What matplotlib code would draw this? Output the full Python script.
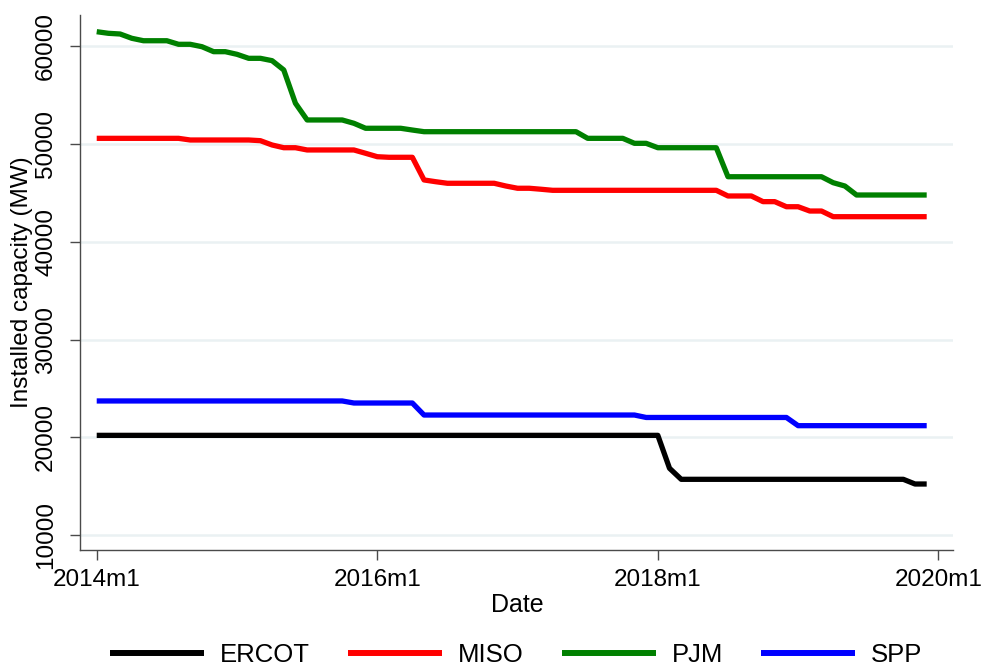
import numpy as np
import matplotlib
matplotlib.use("Agg")
import matplotlib.pyplot as plt

plt.rcParams['font.family'] = ['Liberation Sans', 'DejaVu Sans']

# Monthly index: 0 = 2014m1 ... 71 = 2019m12
months = np.arange(72)
tick_pos = [0, 24, 48, 72]
tick_labels = ["2014m1", "2016m1", "2018m1", "2020m1"]
y_ticks = [10000, 20000, 30000, 40000, 50000, 60000]

ercot = [20200, 20200, 20200, 20200, 20200, 20200, 20200, 20200, 20200, 20200,
         20200, 20200, 20200, 20200, 20200, 20200, 20200, 20200, 20200, 20200,
         20200, 20200, 20200, 20200, 20200, 20200, 20200, 20200, 20200, 20200,
         20200, 20200, 20200, 20200, 20200, 20200, 20200, 20200, 20200, 20200,
         20200, 20200, 20200, 20200, 20200, 20200, 20200, 20200, 20200, 16830,
         15700, 15700, 15700, 15700, 15700, 15700, 15700, 15700, 15700, 15700,
         15700, 15700, 15700, 15700, 15700, 15700, 15700, 15700, 15700, 15700,
         15220, 15220]

miso = [50600, 50600, 50600, 50600, 50600, 50600, 50600, 50600, 50430, 50430,
        50430, 50430, 50430, 50430, 50360, 49920, 49640, 49640, 49410, 49410,
        49410, 49410, 49410, 49070, 48720, 48660, 48660, 48660, 46340, 46160,
        46000, 46000, 46000, 46000, 46000, 45720, 45490, 45490, 45390, 45280,
        45280, 45280, 45280, 45280, 45280, 45280, 45280, 45280, 45280, 45280,
        45280, 45280, 45280, 45280, 44700, 44700, 44700, 44120, 44120, 43600,
        43600, 43160, 43160, 42580, 42580, 42580, 42580, 42580, 42580, 42580,
        42580, 42580]

pjm = [61515, 61350, 61280, 60840, 60590, 60590, 60590, 60225, 60225, 59980,
       59470, 59470, 59200, 58790, 58790, 58550, 57600, 54190, 52480, 52480,
       52480, 52480, 52140, 51630, 51630, 51630, 51630, 51450, 51280, 51280,
       51280, 51280, 51280, 51280, 51280, 51280, 51280, 51280, 51280, 51280,
       51280, 51280, 50600, 50600, 50600, 50600, 50090, 50090, 49640, 49640,
       49640, 49640, 49640, 49640, 46670, 46670, 46670, 46670, 46670, 46670,
       46670, 46670, 46670, 46060, 45720, 44800, 44800, 44800, 44800, 44800,
       44800, 44800]

spp = [23720, 23720, 23720, 23720, 23720, 23720, 23720, 23720, 23720, 23720,
       23720, 23720, 23720, 23720, 23720, 23720, 23720, 23720, 23720, 23720,
       23720, 23720, 23510, 23510, 23510, 23510, 23510, 23510, 22280, 22280,
       22280, 22280, 22280, 22280, 22280, 22280, 22280, 22280, 22280, 22280,
       22280, 22280, 22280, 22280, 22280, 22280, 22280, 22030, 22030, 22030,
       22030, 22030, 22030, 22030, 22030, 22030, 22030, 22030, 22030, 22030,
       21190, 21190, 21190, 21190, 21190, 21190, 21190, 21190, 21190, 21190,
       21190, 21190]

series_names = ["ERCOT", "MISO", "PJM", "SPP"]
series_vals = [ercot, miso, pjm, spp]
series_colors = ["#000000", "#ff0000", "#008000", "#0000ff"]

W, H = 982, 666
fig = plt.figure(figsize=(W / 100, H / 100), dpi=100)
ax = fig.add_axes([80 / W, 1 - 550 / H, 873 / W, 535 / H])

for name, vals, col in zip(series_names, series_vals, series_colors):
    ax.plot(months, vals, color=col, lw=3.8, label=name,
            solid_joinstyle='round', solid_capstyle='butt')

ax.set_xlim(-1.43, 73.25)
ax.set_ylim(8465, 63224)
ax.set_xticks(tick_pos)
ax.set_xticklabels(tick_labels)
ax.set_yticks(y_ticks)
ax.set_yticklabels([str(v) for v in y_ticks])

ax.grid(axis='y', color='#eaf1f3', lw=1.8)
ax.set_axisbelow(True)

for s in ['top', 'right']:
    ax.spines[s].set_visible(False)
for s in ['left', 'bottom']:
    ax.spines[s].set_color('#4a4a4a')
    ax.spines[s].set_linewidth(1.0)

ax.tick_params(axis='both', colors='#4a4a4a', labelcolor='black',
               length=7.5, width=1.0, labelsize=17.5)
ax.tick_params(axis='x', pad=6)
ax.tick_params(axis='y', pad=9)
for lab in ax.get_yticklabels():
    lab.set_rotation(90)
    lab.set_va('center')
    lab.set_ha('right')

fig.text(22 / W, 1 - 282 / H, "Installed capacity (MW)", rotation=90,
         ha='center', va='center', fontsize=17.5)
fig.text(517 / W, 1 - 605 / H, "Date", ha='center', va='center', fontsize=18)

leg = fig.legend(loc='center', bbox_to_anchor=(516 / W, 1 - 655 / H),
                 ncol=4, frameon=False, fontsize=18.5, handlelength=3.66,
                 handletextpad=0.62, columnspacing=1.48, borderpad=0.0)
for h in leg.get_lines():
    h.set_linewidth(4.3)

fig.savefig("out.png", dpi=100, facecolor='white')
